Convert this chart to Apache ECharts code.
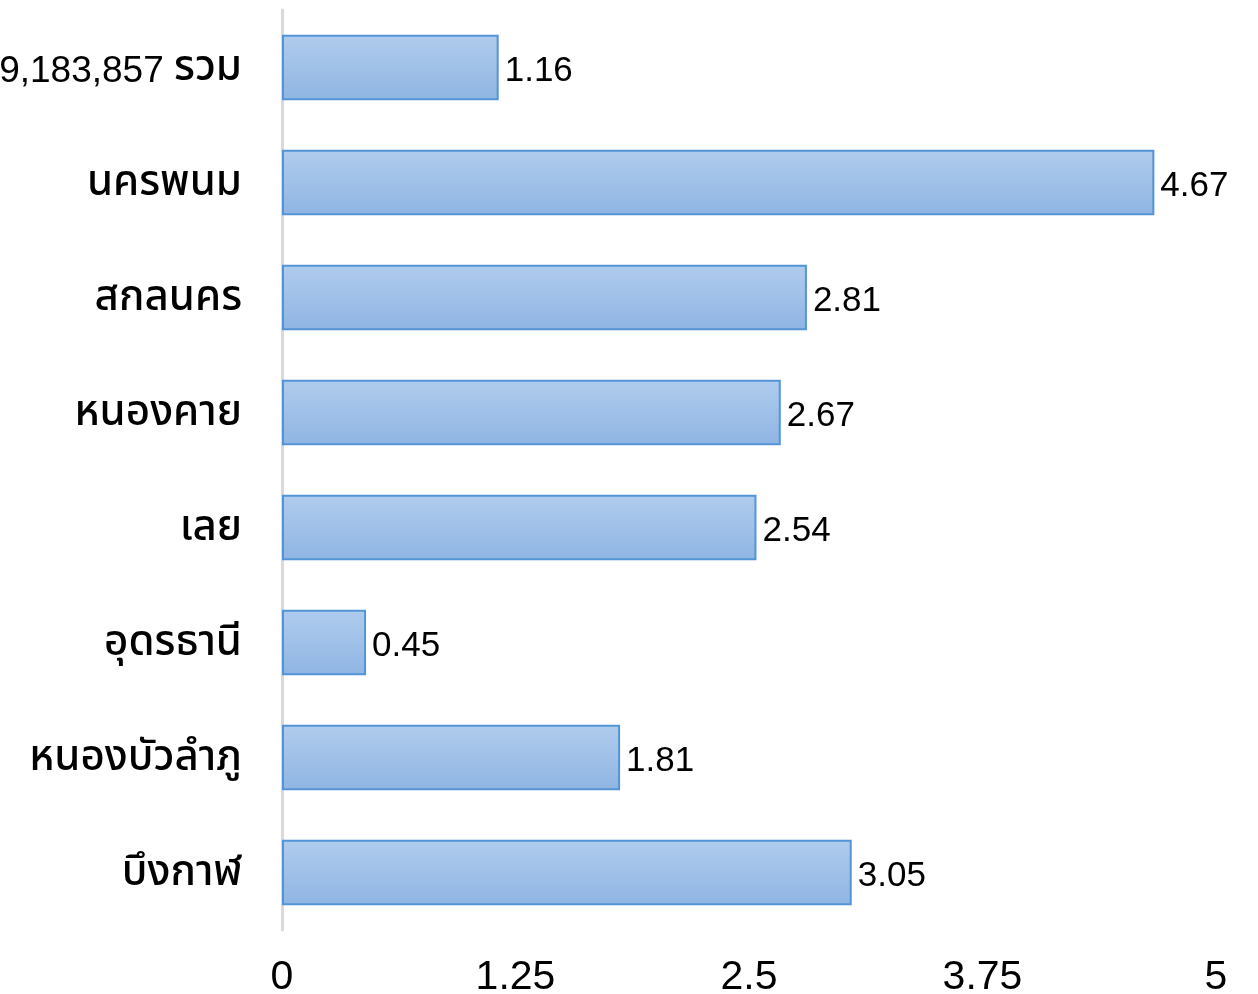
<!DOCTYPE html>
<html>
<head>
<meta charset="utf-8">
<script src="https://cdn.jsdelivr.net/npm/echarts@6/dist/echarts.min.js"></script>
<style>html,body{margin:0;padding:0;background:#fff;}#c{width:1258px;height:994px;}</style>
</head>
<body>
<div id="c"></div>
<script>
const categories = ["9,183,857 รวม", "นครพนม", "สกลนคร", "หนองคาย", "เลย", "อุดรธานี", "หนองบัวลำภู", "บึงกาฬ"];
const values = [1.16, 4.67, 2.81, 2.67, 2.54, 0.45, 1.81, 3.05];
const xTicks = [0, 1.25, 2.5, 3.75, 5];

const FONT = '"Liberation Sans", "Noto Sans Thai", "Noto Sans", sans-serif';
const THAI = '"Noto Sans Thai", "Noto Sans", sans-serif';

function richLabel(s) {
  const parts = s.match(/[\u0E00-\u0E7F]+|[^\u0E00-\u0E7F]+/g) || [];
  return parts.map(p => /[\u0E00-\u0E7F]/.test(p) ? '{t|' + p + '}' : '{d|' + p + '}').join('');
}

const chart = echarts.init(document.getElementById('c'));
chart.setOption({
  animation: false,
  backgroundColor: '#fff',
  grid: { left: 282, right: 42, top: 10, bottom: 64, containLabel: false, outerBoundsMode: 'none' },
  xAxis: {
    type: 'value', min: 0, max: 5, interval: 1.25,
    axisLine: { show: false }, axisTick: { show: false },
    splitLine: { show: false },
    axisLabel: { color: '#000', fontSize: 41, fontFamily: FONT, margin: 27,
      formatter: v => xTicks.includes(v) ? String(v) : '' }
  },
  yAxis: {
    type: 'category', data: categories.slice().reverse(),
    axisLine: { show: true, lineStyle: { color: '#d9d9d9', width: 3 } },
    axisTick: { show: false },
    axisLabel: {
      color: '#000', margin: 40,
      formatter: v => richLabel(v),
      rich: {
        d: { fontSize: 37, fontFamily: FONT, color: '#000', padding: [8, 0, 0, 0] },
        t: { fontSize: 42, fontFamily: THAI, fontWeight: 500, color: '#000', padding: [8, 0, 0, 0] }
      }
    }
  },
  series: [{
    type: 'bar',
    data: values.slice().reverse(),
    barCategoryGap: '43%',
    itemStyle: {
      color: new echarts.graphic.LinearGradient(0, 0, 0, 1, [
        { offset: 0, color: '#b0cced' },
        { offset: 1, color: '#8fb5e3' }
      ]),
      borderColor: '#5394d6', borderWidth: 2
    },
    label: { show: true, position: 'right', distance: 6, offset: [0, 4], color: '#000', fontSize: 35, fontFamily: FONT,
      formatter: p => p.value.toFixed(2) }
  }]
});
</script>
</body>
</html>
